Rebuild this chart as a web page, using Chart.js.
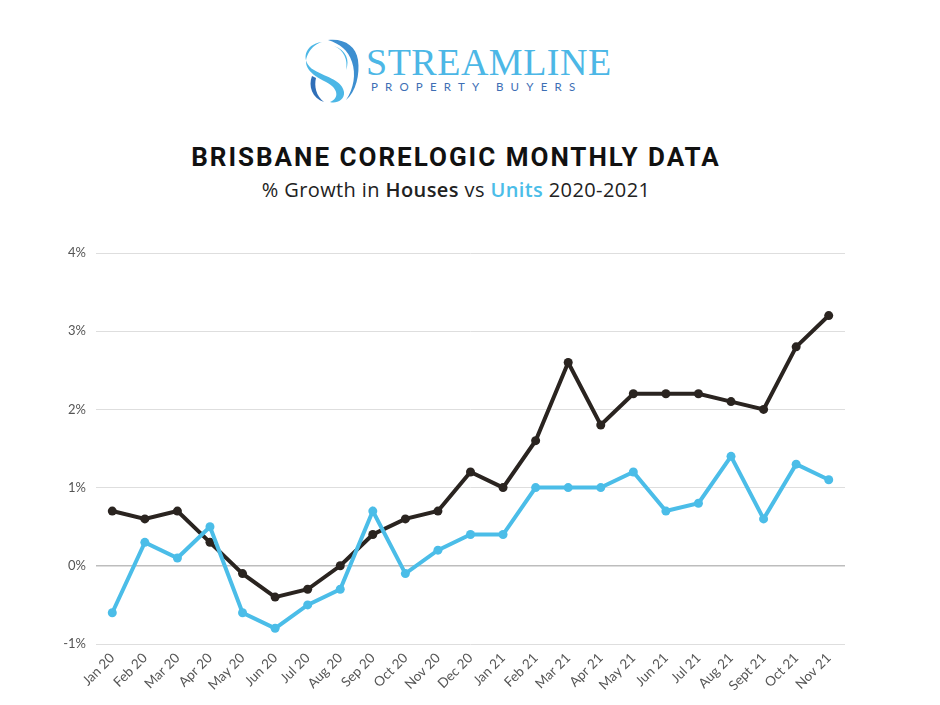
<!DOCTYPE html>
<html>
<head>
<meta charset="utf-8">
<script src="https://cdn.jsdelivr.net/npm/chart.js@4.4.1/dist/chart.umd.min.js"></script>
<style>
  html, body { margin:0; padding:0; background:#fff; }
  body { width:940px; height:705px; position:relative; overflow:hidden; }
  #logo { position:absolute; left:300px; top:36px; width:320px; height:70px; }
  #brand { position:absolute; left:366px; top:40px; font-family:"Liberation Serif", serif; font-size:38px; color:#4cb7e6; letter-spacing:0.5px; line-height:44px; }
  #sub { position:absolute; left:371px; top:80px; font-family:"Lato", sans-serif; font-size:11.5px; color:#3d6eb4; letter-spacing:7.2px; line-height:14px; }
  #title { position:absolute; left:0; width:912px; top:140px; text-align:center; font-family:"Roboto", sans-serif; font-weight:700; font-size:26px; letter-spacing:2px; color:#111; line-height:34px; }
  #subtitle { position:absolute; left:0; width:912px; top:176px; text-align:center; font-family:"Open Sans", sans-serif; font-size:20px; letter-spacing:0.4px; color:#222; line-height:28px; }
  #subtitle b { font-weight:600; }
  #subtitle .u { color:#4bbde8; font-weight:600; }
  #wrap { position:absolute; left:0; top:230px; width:940px; height:475px; }
</style>
</head>
<body>
<svg id="logo" viewBox="0 0 320 70">
  <path d="M22 6 C4 8 0 26 14 34 C28 42 42 44 44 56 C45 64 36 68 30 66 C40 62 38 52 26 46 C10 38 2 30 8 18 C12 10 18 7 22 6 Z" fill="#4cb7e6"/>
  <path d="M28 4 C44 2 56 10 58 24 C60 38 56 56 46 64 C54 52 56 38 52 26 C48 14 40 8 28 4 Z" fill="#3d8fd0"/>
  <path d="M12 40 C8 50 12 62 24 66 C16 60 14 50 16 42 Z" fill="#2f6fb8"/>
  <path d="M34 10 C44 14 48 24 46 34 C50 24 46 14 34 10 Z" fill="#4cb7e6"/>
</svg>
<div id="brand">STREAMLINE</div>
<div id="sub">PROPERTY BUYERS</div>
<div id="title">BRISBANE CORELOGIC MONTHLY DATA</div>
<div id="subtitle">% Growth in <b>Houses</b> vs <span class="u">Units</span> 2020-2021</div>
<div id="wrap"><canvas id="c"></canvas></div>
<script>
const months = ["Jan 20","Feb 20","Mar 20","Apr 20","May 20","Jun 20","Jul 20","Aug 20","Sep 20","Oct 20","Nov 20","Dec 20","Jan 21","Feb 21","Mar 21","Apr 21","May 21","Jun 21","Jul 21","Aug 21","Sept 21","Oct 21","Nov 21"];
const houses = [0.7,0.6,0.7,0.3,-0.1,-0.4,-0.3,0.0,0.4,0.6,0.7,1.2,1.0,1.6,2.6,1.8,2.2,2.2,2.2,2.1,2.0,2.8,3.2];
const units = [-0.6,0.3,0.1,0.5,-0.6,-0.8,-0.5,-0.3,0.7,-0.1,0.2,0.4,0.4,1.0,1.0,1.0,1.2,0.7,0.8,1.4,0.6,1.3,1.1];
const yMin = -1, yMax = 4, yStep = 1;
const houseColor = "#2a2420";
const unitColor = "#4bbde8";

new Chart(document.getElementById("c"), {
  type: "line",
  data: {
    labels: months,
    datasets: [
      { label: "Units", data: units, borderColor: unitColor, backgroundColor: unitColor, borderWidth: 4, pointRadius: 4.5, pointBorderWidth: 0, tension: 0 },
      { label: "Houses", data: houses, borderColor: houseColor, backgroundColor: houseColor, borderWidth: 4, pointRadius: 4.5, pointBorderWidth: 0, tension: 0 }
    ]
  },
  options: {
    responsive: true,
    maintainAspectRatio: false,
    animation: false,
    layout: { padding: { left: 0, right: 95, top: 23, bottom: 0 } },
    plugins: { legend: { display: false }, tooltip: { enabled: false } },
    scales: {
      x: {
        offset: true,
        grid: { display: false, drawTicks: false },
        border: { display: false },
        ticks: { maxRotation: 45, minRotation: 45, autoSkip: false, padding: 6, color: "#555", font: { family: "Lato", size: 13.5 } },
        afterFit: s => { s.height = 61; }
      },
      y: {
        min: yMin, max: yMax,
        grid: { drawTicks: false, color: ctx => ctx.tick.value === 0 ? "#bdbdbd" : "#dedede", lineWidth: ctx => ctx.tick.value === 0 ? 1.5 : 1 },
        border: { display: false },
        ticks: { stepSize: yStep, padding: 10, color: "#555", font: { family: "Lato", size: 13 }, callback: v => v + "%" },
        afterFit: s => { s.width = 96; }
      }
    }
  }
});
</script>
</body>
</html>
